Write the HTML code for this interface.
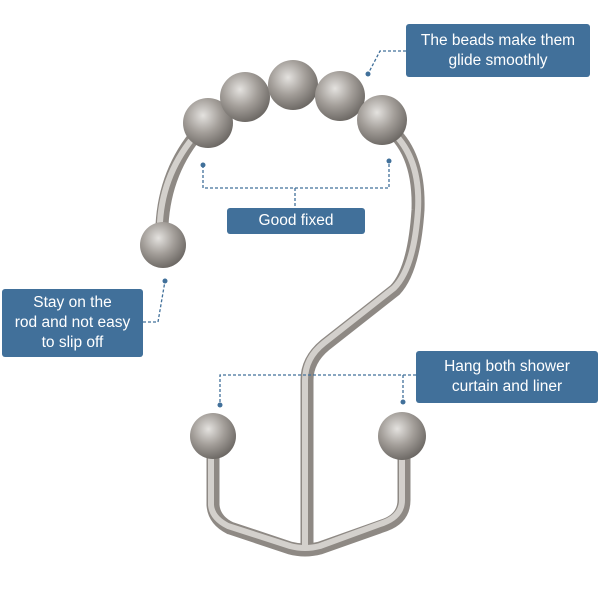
<!DOCTYPE html>
<html><head><style>
body{margin:0;background:#fff;width:600px;height:600px;overflow:hidden;position:relative;font-family:"Liberation Sans",sans-serif}
.b{position:absolute;background:#41709a;color:#fff;border-radius:3px;text-align:center;font-size:15.5px;line-height:20px;display:flex;align-items:center;justify-content:center}
svg{position:absolute;left:0;top:0}
</style></head><body>
<svg width="600" height="600">
<defs>
<radialGradient id="g" cx="0.4" cy="0.35" r="0.7"><stop offset="0" stop-color="#e4e2df"/><stop offset="0.5" stop-color="#a39e99"/><stop offset="1" stop-color="#67635f"/></radialGradient>
</defs>
<g fill="none" stroke-linecap="round" stroke-linejoin="round">
<g stroke="#8e8984" stroke-width="13">
<path d="M162 225 Q165 170 200 130"/>
<path d="M385 125 Q420 150 418 210 Q414 270 395 290 L325 345 Q307 360 307 380 L307 545"/>
<path d="M213 455 L213 505 Q214 520 230 528 L290 548 Q305 552 320 548 L385 525 Q404 518 404 500 L404 455"/>
</g>
<g stroke="#d3d0cc" stroke-width="6">
<path d="M160 222 Q163 172 197 133"/>
<path d="M388 128 Q421 155 418 210 Q414 268 394 288 L324 343 Q305 358 305 380 L305 545"/>
<path d="M211 455 L211 505 Q212 518 228 526 L290 546 Q305 550 320 546 L383 523 Q402 516 402 500 L402 455"/>
</g>
</g>
<g fill="url(#g)">
<circle cx="208" cy="123" r="25"/><circle cx="245" cy="97" r="25"/><circle cx="293" cy="85" r="25"/><circle cx="340" cy="96" r="25"/><circle cx="382" cy="120" r="25"/>
<circle cx="163" cy="245" r="23"/><circle cx="213" cy="436" r="23"/><circle cx="402" cy="436" r="24"/>
</g>
<g stroke="#41709a" stroke-width="1.3" stroke-dasharray="3,2" fill="none">
<path d="M406 51 L380 51 L368 74"/>
<path d="M203 165 L203 188 L389 188 L389 161 M295 188 L295 208"/>
<path d="M143 322 L158 322 L165 281"/>
<path d="M416 375 L220 375 L220 405 M403 375 L403 402"/>
</g>
<g fill="#41709a"><circle cx="368" cy="74" r="2.5"/><circle cx="203" cy="165" r="2.5"/><circle cx="389" cy="161" r="2.5"/><circle cx="165" cy="281" r="2.5"/><circle cx="220" cy="405" r="2.5"/><circle cx="403" cy="402" r="2.5"/></g>
</svg>
<div class="b" style="left:406px;top:24px;width:184px;height:53px">The beads make them<br>glide smoothly</div>
<div class="b" style="left:227px;top:208px;width:138px;height:26px">Good fixed</div>
<div class="b" style="left:2px;top:289px;width:141px;height:68px">Stay on the<br>rod and not easy<br>to slip off</div>
<div class="b" style="left:416px;top:351px;width:182px;height:52px">Hang both shower<br>curtain and liner</div>
</body></html>
